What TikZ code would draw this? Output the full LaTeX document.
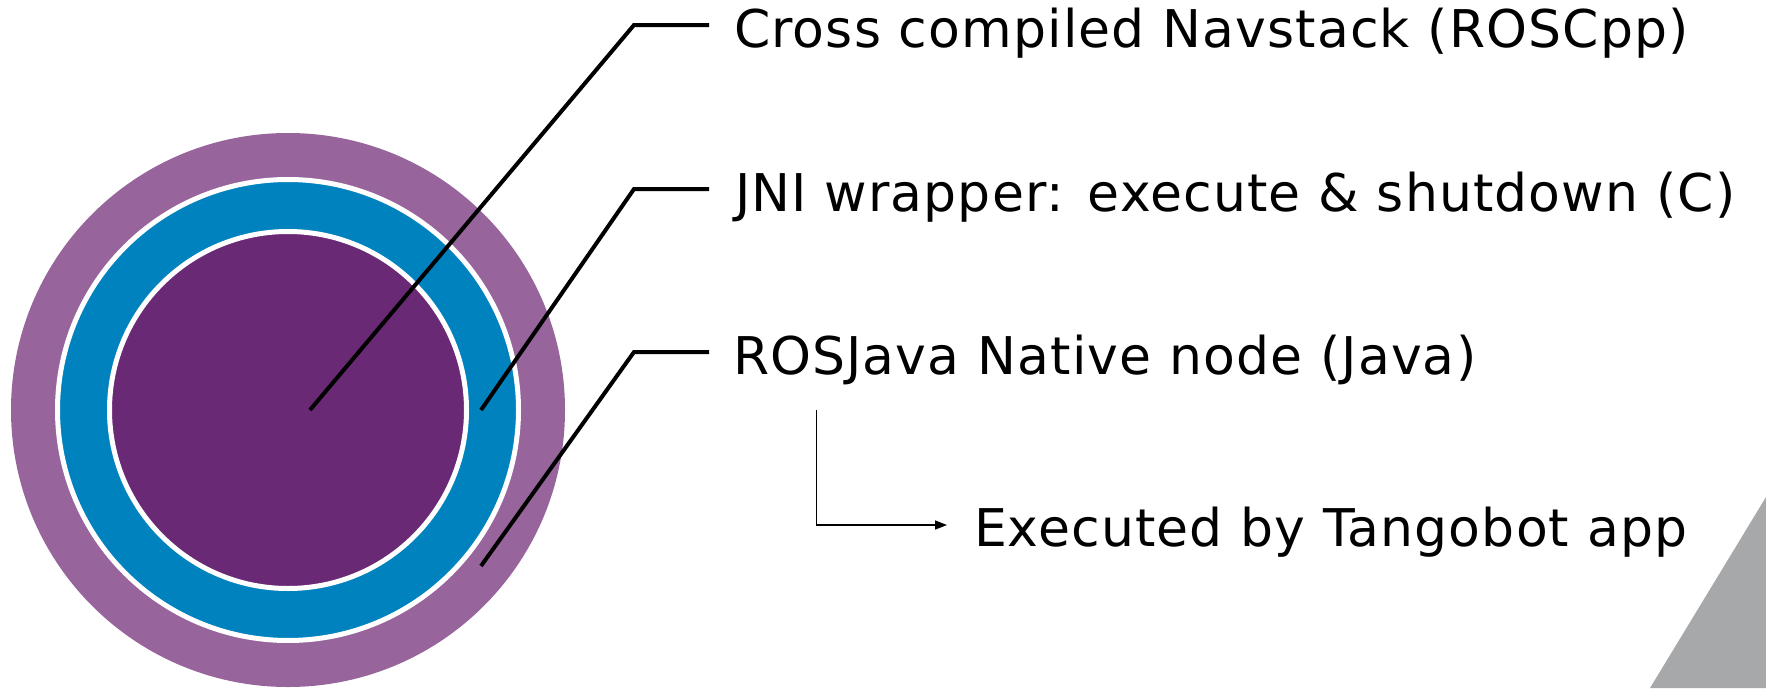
\documentclass[tikz,border=0pt]{standalone}
\usepackage{fontspec}
\setmainfont{DejaVu Sans}[LetterSpace=2.2]
\usetikzlibrary{arrows.meta}
\definecolor{ringpurple}{HTML}{97659C}
\definecolor{ringblue}{HTML}{0082BE}
\definecolor{corepurple}{HTML}{6A2974}
\definecolor{cornergrey}{HTML}{A7A8AA}
\tikzset{
  disc/.style={circle, inner sep=0pt, outer sep=0pt},
  label text/.style={anchor=base west, inner sep=0pt, outer sep=0pt, font=\fontsize{52}{60}\selectfont},
  leader/.style={line width=4pt, black, line join=miter},
  flow/.style={line width=1.6pt, black, -{Triangle[length=12pt,width=9pt]}}
}
\begin{document}
\begin{tikzpicture}[x=1pt,y=-1pt]
\useasboundingbox (0,0) rectangle (1766,688);
% corner triangle
\fill[cornergrey] (1766,497) -- (1766,688) -- (1650,688) -- cycle;
% circles
\node[disc, fill=ringpurple, minimum size=554pt] (outer) at (288,410) {};
\node[disc, fill=ringblue, draw=white, line width=5pt, minimum size=461pt] (middle) at (288,410) {};
\node[disc, fill=corepurple, draw=white, line width=5pt, minimum size=357pt] (core) at (288,410) {};
% labels
\node[label text] (t1) at (734,47.5) {Cross compiled Navstack (ROSCpp)};
\node[label text] (t2) at (735,211.5) {JNI wrapper: execute \& shutdown (C)};
\node[label text] (t3) at (733,374) {ROSJava Native node (Java)};
\node[label text] (t4) at (974,546) {Executed by Tangobot app};
% leader coordinates
\coordinate (p1) at (310,410);
\coordinate (k1) at (634,25);
\coordinate (e1) at (709,25);
\coordinate (p2) at (481,410);
\coordinate (k2) at (634,189);
\coordinate (e2) at (709,189);
\coordinate (p3) at (481,566);
\coordinate (k3) at (634,352);
\coordinate (e3) at (709,352);
\draw[leader] (p1) -- (k1) -- (e1);
\draw[leader] (p2) -- (k2) -- (e2);
\draw[leader] (p3) -- (k3) -- (e3);
% flow arrow
\coordinate (a0) at (816.6,410);
\coordinate (a1) at (816.6,525);
\coordinate (a2) at (947,525);
\draw[flow] (a0) -- (a1) -- (a2);
\end{tikzpicture}
\end{document}
